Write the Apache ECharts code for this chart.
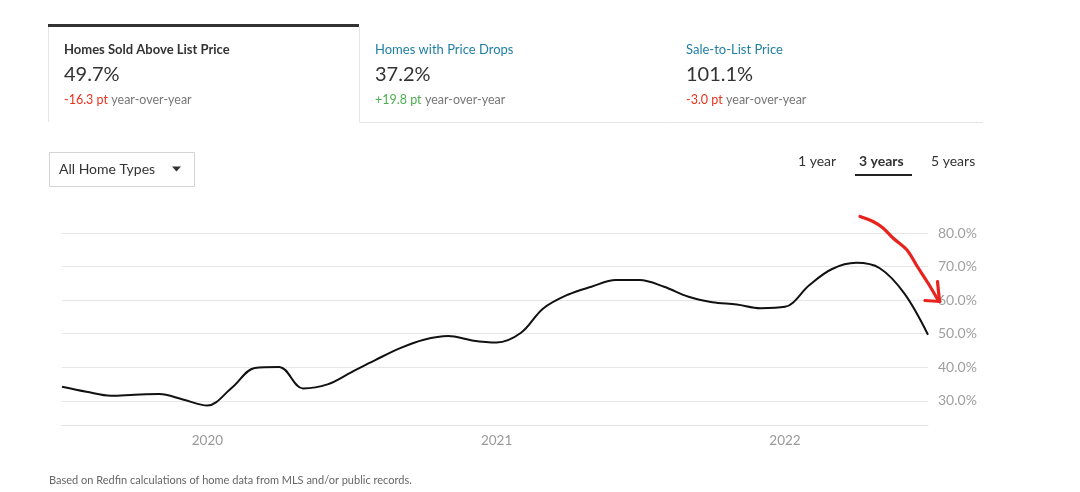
<!DOCTYPE html>
<html>
<head>
<meta charset="utf-8">
<script src="https://cdn.jsdelivr.net/npm/echarts@6/dist/echarts.min.js"></script>
<style>
html,body{margin:0;padding:0;background:#fff;}
#c{width:1080px;height:492px;}
</style>
</head>
<body>
<div id="c"></div>
<script>
// ---- data ----
const months = [
  '2019-07-01','2019-08-01','2019-09-01','2019-10-01','2019-11-01','2019-12-01',
  '2020-01-01','2020-02-01','2020-03-01','2020-04-01','2020-05-01','2020-06-01',
  '2020-07-01','2020-08-01','2020-09-01','2020-10-01','2020-11-01','2020-12-01',
  '2021-01-01','2021-02-01','2021-03-01','2021-04-01','2021-05-01','2021-06-01',
  '2021-07-01','2021-08-01','2021-09-01','2021-10-01','2021-11-01','2021-12-01',
  '2022-01-01','2022-02-01','2022-03-01','2022-04-01','2022-05-01','2022-06-01',
  '2022-07-01'
];
const soldAboveList = [
  34.2, 32.7, 31.5, 31.8, 32.0, 30.4,
  28.6, 33.9, 39.8, 40.1, 33.7, 34.9,
  38.5, 42.2, 45.7, 48.2, 49.3, 48.0,
  47.4, 50.3, 57.5, 61.6, 64.0, 66.0,
  66.0, 64.0, 61.0, 59.4, 58.7, 57.6,
  58.0, 64.5, 69.2, 71.1, 69.5, 62.0,
  49.7
];
const yTicks = [30, 40, 50, 60, 70, 80];
const tabs = [
  {title: 'Homes Sold Above List Price', value: '49.7%', change: '-16.3 pt', up: false},
  {title: 'Homes with Price Drops', value: '37.2%', change: '+19.8 pt', up: true},
  {title: 'Sale-to-List Price', value: '101.1%', change: '-3.0 pt', up: false}
];
const ranges = ['1 year', '3 years', '5 years'];

// ---- chart ----
const FONT = 'Lato, "Noto Sans", sans-serif';
const parseDay = s => { const p = s.split('-').map(Number); return new Date(p[0], p[1]-1, p[2]).getTime(); };
const chart = echarts.init(document.getElementById('c'));

const graphics = [];
// tab top bar
graphics.push({type:'rect', shape:{x:48,y:24,width:311,height:3}, style:{fill:'#333'}});
// tab borders
graphics.push({type:'line', shape:{x1:48.5,y1:27,x2:48.5,y2:122}, style:{stroke:'#e4e4e4',lineWidth:1}});
graphics.push({type:'line', shape:{x1:359.5,y1:27,x2:359.5,y2:122}, style:{stroke:'#e4e4e4',lineWidth:1}});
graphics.push({type:'line', shape:{x1:359.5,y1:122.5,x2:983,y2:122.5}, style:{stroke:'#e4e4e4',lineWidth:1}});
const tabX = [64, 375, 686];
tabs.forEach((t, i) => {
  graphics.push({type:'text', x:tabX[i], y:49.5, style:{text:t.title, font:(i===0?'bold ':'')+'13px '+FONT, fill:i===0?'#333':'#1f7fa3', textVerticalAlign:'middle'}});
  graphics.push({type:'text', x:tabX[i], y:75, style:{text:t.value, font:'20px '+FONT, fill:'#333', textVerticalAlign:'middle'}});
  graphics.push({type:'text', x:tabX[i], y:100, style:{
    text:'{c|'+t.change+'} {g|year-over-year}',
    rich:{c:{font:'12.5px '+FONT, fill:t.up?'#4caf50':'#e8321c'}, g:{font:'12.5px '+FONT, fill:'#777'}},
    textVerticalAlign:'middle'}});
});
// dropdown
graphics.push({type:'rect', shape:{x:49.5,y:152.5,width:145,height:34}, style:{fill:'#fff',stroke:'#d4d4d4',lineWidth:1}});
graphics.push({type:'text', x:59, y:169.5, style:{text:'All Home Types', font:'14px '+FONT, fill:'#333', textVerticalAlign:'middle'}});
graphics.push({type:'polygon', shape:{points:[[172,166.5],[181,166.5],[176.5,171.5]]}, style:{fill:'#333'}});
// range selector
const rangeX = [798, 859, 931];
ranges.forEach((r, i) => {
  graphics.push({type:'text', x:rangeX[i], y:161, style:{text:r, font:(i===1?'bold ':'')+'14px '+FONT, fill:'#333', textVerticalAlign:'middle'}});
});
graphics.push({type:'rect', shape:{x:855,y:174,width:57,height:2}, style:{fill:'#222'}});
// footnote
graphics.push({type:'text', x:49, y:480, style:{text:'Based on Redfin calculations of home data from MLS and/or public records.', font:'11px '+FONT, fill:'#666', textVerticalAlign:'middle'}});
// red hand-drawn arrow annotation
graphics.push({type:'polyline', z:100, shape:{points:[[860,216.5],[873,221.5],[883,228],[893,238],[907,250],[917,266],[928,283],[938,300]], smooth:0.3}, style:{stroke:'#e8231d',lineWidth:3.2,lineCap:'round',fill:null}});
graphics.push({type:'polyline', z:100, shape:{points:[[925,300.5],[940,301.5]]}, style:{stroke:'#e8231d',lineWidth:3.2,lineCap:'round'}});
graphics.push({type:'polyline', z:100, shape:{points:[[937.5,281.5],[939.5,301]]}, style:{stroke:'#e8231d',lineWidth:3.2,lineCap:'round'}});

chart.setOption({
  animation: false,
  grid: {left: 62, right: 152, top: 233, bottom: 67, containLabel: false},
  xAxis: {
    type: 'time',
    min: parseDay(months[0]),
    max: parseDay(months[months.length-1]),
    axisLine: {show: true, lineStyle: {color: '#e2e2e2', width: 1}},
    axisTick: {show: false},
    splitLine: {show: false},
    axisLabel: {
      formatter: v => { const d = new Date(v); return (d.getMonth() === 0 && d.getDate() === 1) ? String(d.getFullYear()) : ''; },
      color: '#999', fontFamily: FONT, fontSize: 13.5, margin: 9, hideOverlap: false
    }
  },
  yAxis: {
    type: 'value',
    position: 'right',
    min: 22.8,
    max: 80,
    axisLine: {show: false},
    axisTick: {show: false, customValues: yTicks},
    splitLine: {show: true, lineStyle: {color: '#e6e6e6', width: 1}},
    axisLabel: {
      customValues: yTicks,
      formatter: v => v.toFixed(1) + '%',
      color: '#a0a0a0', fontFamily: FONT, fontSize: 14, margin: 10
    }
  },
  series: [{
    type: 'line',
    data: months.map((m, i) => [parseDay(m), soldAboveList[i]]),
    smooth: 0.35,
    showSymbol: false,
    lineStyle: {color: '#111', width: 2},
    itemStyle: {color: '#111'}
  }],
  graphic: graphics
});
</script>
</body>
</html>
